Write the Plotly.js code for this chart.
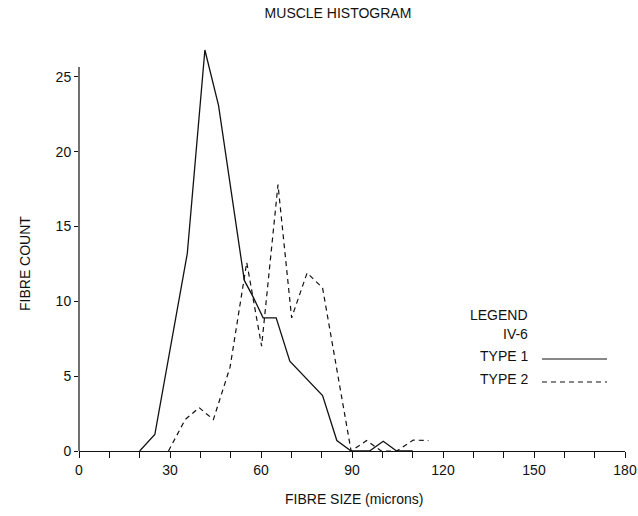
<!DOCTYPE html>
<html>
<head>
<meta charset="utf-8">
<script src="https://cdn.plot.ly/plotly-3.0.1.min.js"></script>
<style>html,body{margin:0;padding:0;background:#fff;}#chart{width:638px;height:516px;}</style>
</head>
<body>
<div id="chart"></div>
<script>
// Data
const type1Size  = [20, 25, 35.7, 41.5, 46, 54.5, 57.4, 60.7, 65, 69.5, 80.3, 85, 89.7, 95.8, 100.3, 104.7, 110];
const type1Count = [0, 1.1, 13.2, 26.8, 23.1, 11.4, 10.3, 8.9, 8.9, 6.0, 3.7, 0.7, 0, 0, 0.65, 0, 0];

const type2Size  = [29.5, 35, 39.6, 44.3, 49.8, 55.3, 60.2, 65.6, 70.1, 75.2, 80.3, 89.7, 94.8, 99.7, 104.7, 110.2, 115.2];
const type2Count = [0, 2.1, 2.9, 2.1, 5.6, 12.6, 7.0, 17.8, 8.9, 11.9, 10.9, 0, 0.7, 0, 0, 0.73, 0.7];

const seriesNames = ["TYPE 1", "TYPE 2"];
const legendHeading = ["LEGEND", "IV-6"];
const yTicks = [0, 5, 10, 15, 20, 25];
const yAxisTop = 25.67;

const FONT = "Liberation Sans, Arial, Helvetica, sans-serif";
const INK = "#111";

// plot area in pixels: left 79, right 625, top 47, bottom 451
const L = 79, R = 625, T = 47, B = 451;
const px2x = p => (p - L) / (R - L);
const py2y = p => (B - p) / (B - T);

const traces = [
  {x: type1Size, y: type1Count, name: seriesNames[0], type: "scatter", mode: "lines",
   line: {color: INK, width: 1.3, dash: "solid"}, showlegend: false, hoverinfo: "x+y+name"},
  {x: type2Size, y: type2Count, name: seriesNames[1], type: "scatter", mode: "lines",
   line: {color: INK, width: 1.2, dash: "5px,4px"}, showlegend: false, hoverinfo: "x+y+name"}
];

const legendX = px2x(530);
const annotations = [
  {text: "FIBRE COUNT", xref: "paper", yref: "paper", x: px2x(25), y: py2y(264),
   xanchor: "center", yanchor: "middle", textangle: -90, showarrow: false,
   font: {family: FONT, size: 14, color: INK}},
  {text: "FIBRE SIZE (microns)", xref: "paper", yref: "paper", x: px2x(354), y: py2y(499),
   xanchor: "center", yanchor: "middle", showarrow: false,
   font: {family: FONT, size: 14, color: INK}},
  {text: legendHeading[0], xref: "paper", yref: "paper", x: legendX, y: py2y(315),
   xanchor: "right", yanchor: "middle", showarrow: false, font: {family: FONT, size: 14, color: INK}},
  {text: legendHeading[1], xref: "paper", yref: "paper", x: legendX, y: py2y(334),
   xanchor: "right", yanchor: "middle", showarrow: false, font: {family: FONT, size: 14, color: INK}},
  {text: seriesNames[0], xref: "paper", yref: "paper", x: legendX, y: py2y(356),
   xanchor: "right", yanchor: "middle", showarrow: false, font: {family: FONT, size: 14, color: INK}},
  {text: seriesNames[1], xref: "paper", yref: "paper", x: legendX, y: py2y(379),
   xanchor: "right", yanchor: "middle", showarrow: false, font: {family: FONT, size: 14, color: INK}}
];

const shapes = [
  // y axis line (stops below the peak, as in the original)
  {type: "line", xref: "paper", yref: "y", x0: 0, x1: 0, y0: 0, y1: yAxisTop,
   line: {color: INK, width: 1.2}},
  // legend samples
  {type: "line", xref: "paper", yref: "paper", x0: px2x(542), x1: px2x(607), y0: py2y(359), y1: py2y(359),
   line: {color: INK, width: 1.2}},
  {type: "line", xref: "paper", yref: "paper", x0: px2x(542), x1: px2x(607), y0: py2y(382), y1: py2y(382),
   line: {color: INK, width: 1.2, dash: "5px,4px"}}
];

const layout = {
  width: 638, height: 516,
  margin: {l: L, r: 638 - R, t: T, b: 516 - B, pad: 0},
  paper_bgcolor: "#fff", plot_bgcolor: "#fff",
  showlegend: false,
  title: {text: "MUSCLE HISTOGRAM", xref: "container", yref: "container",
          x: 338 / 638, y: 1 - 13.5 / 516, xanchor: "center", yanchor: "middle",
          font: {family: FONT, size: 14, color: INK}},
  font: {family: FONT, size: 14, color: INK},
  xaxis: {range: [0, 180], dtick: 30, tick0: 0, ticks: "outside", ticklen: 6, tickwidth: 1, tickcolor: INK,
          minor: {dtick: 10, ticks: "outside", ticklen: 6, tickwidth: 1, tickcolor: INK, showgrid: false},
          showline: true, linecolor: INK, linewidth: 1.2, showgrid: false, zeroline: false,
          tickfont: {family: FONT, size: 14, color: INK}, fixedrange: true},
  yaxis: {range: [0, 27], tickmode: "array", tickvals: yTicks, ticks: "outside", ticklen: 4,
          tickwidth: 1, tickcolor: INK, showline: false, showgrid: false, zeroline: false,
          tickfont: {family: FONT, size: 14, color: INK}, fixedrange: true},
  annotations: annotations,
  shapes: shapes
};

Plotly.newPlot("chart", traces, layout, {displayModeBar: false, staticPlot: true});
</script>
</body>
</html>
